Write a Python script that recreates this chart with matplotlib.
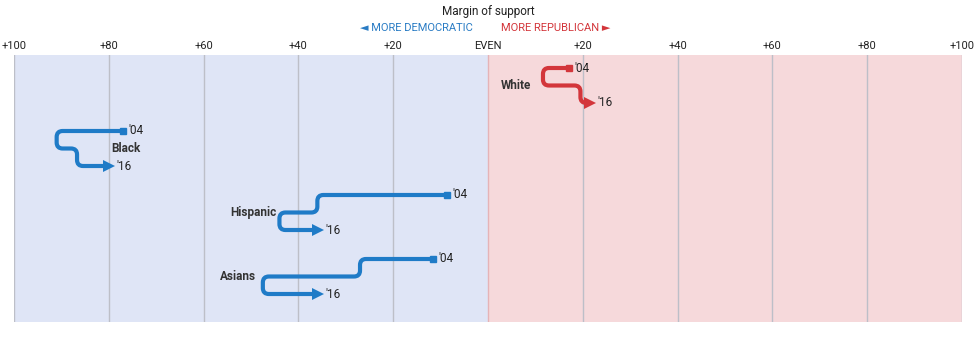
import numpy as np
import matplotlib
matplotlib.use("Agg")
import matplotlib.pyplot as plt
from matplotlib.path import Path
from matplotlib.patches import PathPatch
import matplotlib.transforms as mtransforms

plt.rcParams['font.family'] = ['Roboto', 'DejaVu Sans']

# margin of support, negative = more Democratic, positive = more Republican
groups = ["White", "Black", "Hispanic", "Asians"]
years = ["'04", "'08", "'12", "'16"]
white = [17, 11.6, 19.5, 20.5]
black = [-77, -91, -86.7, -81]
hispanic = [-8.7, -36, -44, -37]
asians = [-11.6, -27, -47.5, -37]
series = [white, black, hispanic, asians]
party_color = ["#d3363b", "#1f7bc7", "#1f7bc7", "#1f7bc7"]

ticks = [-100, -80, -60, -40, -20, 0, 20, 40, 60, 80, 100]
tick_labels = ["+100", "+80", "+60", "+40", "+20", "EVEN", "+20", "+40", "+60", "+80", "+100"]

# layout (pixel units on the y axis)
group_top = [68, 131, 195, 259]
row_gap = 17.5
name_pos = [(2.7, "left"), (-79.5, "left"), (-44.7, "right"), (-49, "right")]

W, H = 980, 338
fig = plt.figure(figsize=(W / 100, H / 100), dpi=100)
ax = fig.add_axes([14 / W, 16 / H, 948 / W, 267 / H])
ax.set_xlim(-100, 100)
ax.set_ylim(322, 55)

ax.axvspan(-100, 0, color="#dfe5f6", lw=0, zorder=0)
ax.axvspan(0, 100, color="#f6d9db", lw=0, zorder=0)
for t in ticks:
    ax.axvline(t, color="#e5b3b7" if t == 0 else "#bdbfc8", lw=1, zorder=1)

px = 948 / 200.0  # pixels per point of margin
r = 6.0
rx = r / px

for vals, y0, col, name, (nx, nha) in zip(series, group_top, party_color, groups, name_pos):
    ys = [y0, y0 + row_gap, y0 + 2 * row_gap]
    verts = [(vals[0], ys[0])]
    codes = [Path.MOVETO]
    for k in (1, 2):
        v = vals[k]
        d_in = np.sign(vals[k] - vals[k - 1])
        d_out = np.sign(vals[k + 1] - vals[k])
        verts += [(v - d_in * rx, ys[k - 1]), (v, ys[k - 1]), (v, ys[k - 1] + r),
                  (v, ys[k] - r), (v, ys[k]), (v + d_out * rx, ys[k])]
        codes += [Path.LINETO, Path.CURVE3, Path.CURVE3,
                  Path.LINETO, Path.CURVE3, Path.CURVE3]
    verts.append((vals[3], ys[2]))
    codes.append(Path.LINETO)
    ax.add_patch(PathPatch(Path(verts, codes), fill=False, edgecolor=col, lw=3,
                           capstyle="butt", joinstyle="round", zorder=3))

    ax.plot(vals[0], ys[0], marker="s", ms=4.5, color=col, zorder=4)
    tr = mtransforms.offset_copy(ax.transData, fig=fig, x=5, y=0, units="dots")
    ax.plot(vals[3], ys[2], marker=">", ms=8.5, color=col, mew=0, transform=tr, zorder=4)

    ax.annotate(years[0], (vals[0], ys[0]), xytext=(4, 0), textcoords="offset points",
                ha="left", va="center", fontsize=8.5, color="#222222")
    ax.annotate(years[3], (vals[3], ys[2]), xytext=(9, 0), textcoords="offset points",
                ha="left", va="center", fontsize=8.5, color="#222222")
    ax.text(nx, ys[1], name, ha=nha, va="center", fontsize=8.5, fontweight="bold", color="#333333")

ax.xaxis.tick_top()
ax.set_xticks(ticks)
ax.set_xticklabels(tick_labels)
ax.tick_params(axis="x", length=0, pad=3, labelsize=8, colors="#222222")
ax.set_yticks([])
for s in ax.spines.values():
    s.set_visible(False)

fig.text(488 / W, 1 - 11 / H, "Margin of support", ha="center", va="center", fontsize=8.5, color="#222222")
fig.text(473 / W, 1 - 28 / H, "◄ MORE DEMOCRATIC", ha="right", va="center", fontsize=8, color="#2a7cc4")
fig.text(501 / W, 1 - 28 / H, "MORE REPUBLICAN ►", ha="left", va="center", fontsize=8, color="#d3363b")

fig.savefig("out.png", dpi=100)
